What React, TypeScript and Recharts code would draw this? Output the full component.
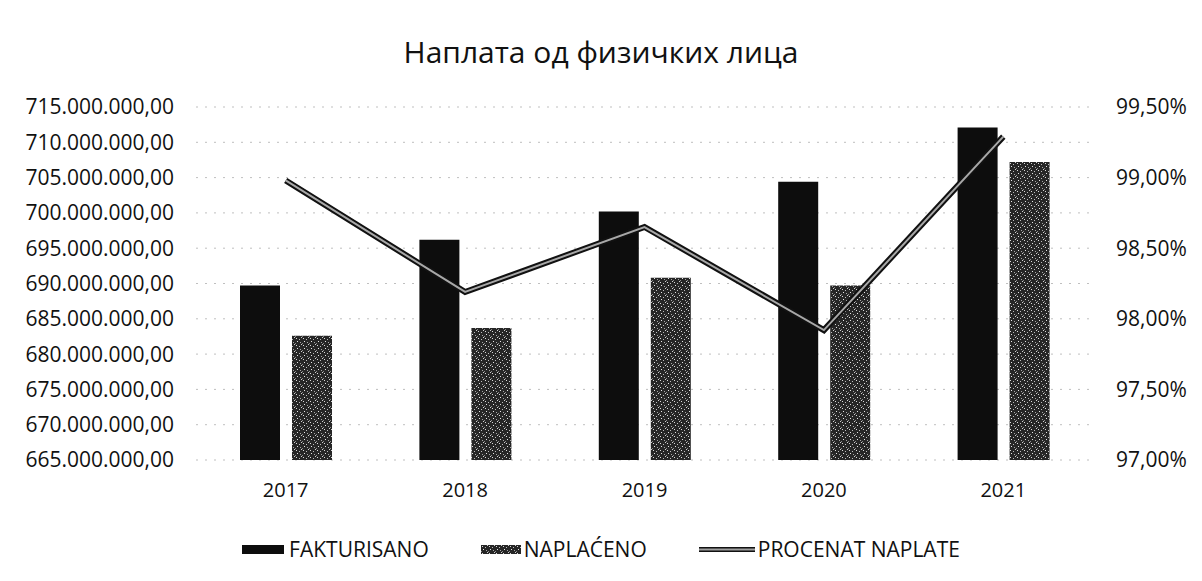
import {
  Bar,
  CartesianGrid,
  ComposedChart,
  Legend,
  Line,
  XAxis,
  YAxis,
} from "recharts";

const years = ["2017", "2018", "2019", "2020", "2021"];
const fakturisano = [689700000, 696200000, 700200000, 704400000, 712100000];
const naplaceno = [682600000, 683700000, 690800000, 689700000, 707200000];
const procenat = [0.9898, 0.9819, 0.9865, 0.9792, 0.9929];

const amountTicks = [
  665000000, 670000000, 675000000, 680000000, 685000000, 690000000,
  695000000, 700000000, 705000000, 710000000, 715000000,
];
const percentTicks = [0.97, 0.975, 0.98, 0.985, 0.99, 0.995];

const chartData = years.map((year, i) => ({
  year,
  fakturisano: fakturisano[i],
  naplaceno: naplaceno[i],
  procenat: procenat[i],
}));

const FONT = "'Open Sans', 'Noto Sans', sans-serif";

const formatAmount = (v: number) => {
  const [whole, dec] = v.toFixed(2).split(".");
  return whole.replace(/\B(?=(\d{3})+(?!\d))/g, ".") + "," + dec;
};

const formatPercent = (v: number) =>
  (v * 100).toFixed(2).replace(".", ",") + "%";

const SpeckleIcon = () => (
  <svg width={40} height={9}>
    <rect width={40} height={9} fill="url(#speckle)" />
  </svg>
);

const CustomLegend = () => (
  <div
    style={{
      display: "flex",
      justifyContent: "center",
      alignItems: "center",
      gap: 52,
      height: 30,
      fontFamily: FONT,
      fontSize: 21,
      color: "#111",
    }}
  >
    <div style={{ display: "flex", alignItems: "center", gap: 5 }}>
      <div style={{ width: 42, height: 9, background: "#0d0d0d" }} />
      <span>FAKTURISANO</span>
    </div>
    <div style={{ display: "flex", alignItems: "center", gap: 3 }}>
      <SpeckleIcon />
      <span>NAPLAĆENO</span>
    </div>
    <div style={{ display: "flex", alignItems: "center", gap: 3 }}>
      <svg width={56} height={9}>
        <line x1={0} y1={4.5} x2={56} y2={4.5} stroke="#111" strokeWidth={5} />
        <line x1={0} y1={4.5} x2={56} y2={4.5} stroke="#9e9e9e" strokeWidth={2} />
      </svg>
      <span>PROCENAT NAPLATE</span>
    </div>
  </div>
);

export default function App() {
  return (
    <div style={{ position: "relative", width: 1186, height: 565, background: "#fff" }}>
      <div
        style={{
          position: "absolute",
          top: 29,
          left: 0,
          width: 1186,
          textAlign: "center",
          fontFamily: FONT,
          fontSize: 30,
          lineHeight: 1,
          color: "#111",
        }}
      >
        Наплата од физичких лица
      </div>
      <ComposedChart
        width={1186}
        height={565}
        data={chartData}
        margin={{ top: 99, right: 0, left: 0, bottom: 43 }}
        barSize={40}
        barGap={12}
      >
        <defs>
          <pattern id="speckle" width={7} height={7} patternUnits="userSpaceOnUse">
            <rect width={7} height={7} fill="#262626" />
            <rect x={1} y={1} width={1} height={1} fill="#d9d9d9" />
            <rect x={4} y={2} width={1} height={1} fill="#bdbdbd" />
            <rect x={2} y={4} width={1} height={1} fill="#e6e6e6" />
            <rect x={5} y={5} width={1} height={1} fill="#a6a6a6" />
            <rect x={0} y={6} width={1} height={1} fill="#8c8c8c" />
            <rect x={6} y={0} width={1} height={1} fill="#cfcfcf" />
          </pattern>
        </defs>
        <CartesianGrid
          vertical={false}
          stroke="#bfbfbf"
          strokeDasharray="2 7"
          yAxisId="amount"
        />
        <XAxis
          dataKey="year"
          axisLine={false}
          tickLine={false}
          tickSize={0}
          tickMargin={23}
          height={40}
          tick={{ fontFamily: FONT, fontSize: 20, fill: "#111" }}
        />
        <YAxis
          yAxisId="amount"
          orientation="left"
          width={188}
          domain={[665000000, 715000000]}
          ticks={amountTicks}
          tickFormatter={formatAmount}
          axisLine={false}
          tickLine={false}
          tickSize={0}
          tickMargin={22}
          tick={{ fontFamily: FONT, fontSize: 21, fill: "#111" }}
        />
        <YAxis
          yAxisId="percent"
          orientation="right"
          width={101}
          domain={[0.97, 0.995]}
          ticks={percentTicks}
          tickFormatter={formatPercent}
          axisLine={false}
          tickLine={false}
          tickSize={0}
          tickMargin={23}
          tick={{ fontFamily: FONT, fontSize: 21, fill: "#111" }}
        />
        <Bar
          yAxisId="amount"
          dataKey="fakturisano"
          name="FAKTURISANO"
          fill="#0d0d0d"
          isAnimationActive={false}
        />
        <Bar
          yAxisId="amount"
          dataKey="naplaceno"
          name="NAPLAĆENO"
          fill="url(#speckle)"
          isAnimationActive={false}
        />
        <Line
          yAxisId="percent"
          dataKey="procenat"
          name="PROCENAT NAPLATE outline"
          legendType="none"
          stroke="#111"
          strokeWidth={6}
          dot={false}
          activeDot={false}
          isAnimationActive={false}
        />
        <Line
          yAxisId="percent"
          dataKey="procenat"
          name="PROCENAT NAPLATE"
          stroke="#a8a8a8"
          strokeWidth={2}
          dot={false}
          activeDot={false}
          isAnimationActive={false}
        />
        <Legend
          content={<CustomLegend />}
          verticalAlign="bottom"
          wrapperStyle={{ top: 526, left: 0, width: 1186, height: 30 }}
        />
      </ComposedChart>
    </div>
  );
}
